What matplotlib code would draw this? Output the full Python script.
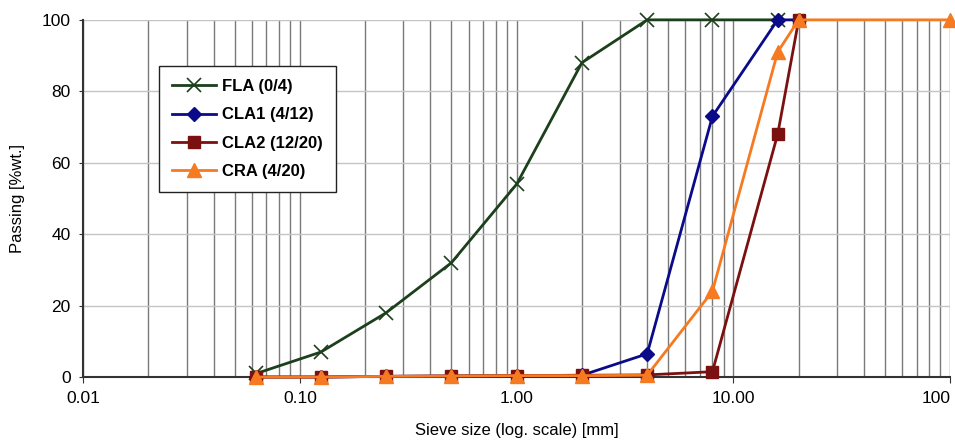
import matplotlib
matplotlib.use("Agg")
import matplotlib.pyplot as plt
from matplotlib.ticker import FixedLocator, NullFormatter, LogLocator
from matplotlib.transforms import ScaledTranslation

plt.rcParams['font.family'] = ['Liberation Sans', 'DejaVu Sans']

fla_x = [0.063, 0.125, 0.25, 0.5, 1, 2, 4, 8, 16]
fla_y = [1, 7, 18, 32, 54, 88, 100, 100, 100]
cla1_x = [0.063, 0.125, 0.25, 0.5, 1, 2, 4, 8, 16, 20]
cla1_y = [0, 0, 0.2, 0.3, 0.4, 0.5, 6.5, 73, 100, 100]
cla2_x = [0.063, 0.125, 0.25, 0.5, 1, 2, 4, 8, 16, 20]
cla2_y = [0, 0, 0.2, 0.3, 0.4, 0.5, 0.6, 1.5, 68, 100]
cra_x = [0.063, 0.125, 0.25, 0.5, 1, 2, 4, 8, 16, 20, 100]
cra_y = [0, 0, 0.2, 0.3, 0.4, 0.4, 0.5, 24, 91, 100, 100]

xticks = [0.01, 0.1, 1, 10, 100]
xticklabels = ["0.01", "0.10", "1.00", "10.00", "100"]
yticks = [0, 20, 40, 60, 80, 100]

fig = plt.figure(figsize=(9.55, 4.41), dpi=100)
ax = fig.add_axes([0.087, 0.145, 0.908, 0.81])
ax.set_xscale('log')
ax.set_xlim(0.01, 100)
ax.set_ylim(0, 100)

ax.plot(fla_x, fla_y, color='#1c3f1c', lw=2, marker='x', ms=10, mew=1.2,
        label='FLA (0/4)', zorder=3, clip_on=False)
ax.plot(cla1_x, cla1_y, color='#0b0b8a', lw=2, marker='D', ms=7,
        label='CLA1 (4/12)', zorder=4, clip_on=False)
ax.plot(cla2_x, cla2_y, color='#7a1010', lw=2, marker='s', ms=8,
        label='CLA2 (12/20)', zorder=5, clip_on=False)
ax.plot(cra_x, cra_y, color='#f57a22', lw=2, marker='^', ms=10,
        label='CRA (4/20)', zorder=6, clip_on=False)

ax.xaxis.set_major_locator(FixedLocator(xticks))
ax.set_xticklabels(xticklabels)
ax.xaxis.set_minor_locator(LogLocator(base=10, subs=range(2, 10)))
ax.xaxis.set_minor_formatter(NullFormatter())
ax.set_yticks(yticks)

last = ax.get_xticklabels()[-1]
last.set_horizontalalignment('right')
last.set_transform(last.get_transform() + ScaledTranslation(3/100, 0, fig.dpi_scale_trans))

ax.grid(True, which='both', axis='x', color='#7a7a7a', lw=1)
ax.grid(True, which='major', axis='y', color='#c4c4c4', lw=1)
ax.set_axisbelow(True)

for s in ['top', 'right']:
    ax.spines[s].set_visible(False)
for s in ['left', 'bottom']:
    ax.spines[s].set_color('#333333')
    ax.spines[s].set_linewidth(1.5)

ax.tick_params(axis='both', which='major', labelsize=12.5, length=4, color='#333333', pad=6)
ax.tick_params(axis='x', which='minor', length=0)
ax.tick_params(axis='y', length=3)

ax.set_xlabel('Sieve size (log. scale) [mm]', fontsize=12, labelpad=12)
ax.set_ylabel('Passing [%wt.]', fontsize=12, labelpad=12)

leg = ax.legend(loc='upper left', bbox_to_anchor=(0.078, 0.895), frameon=True,
                fancybox=False, edgecolor='#222222', framealpha=1,
                prop={'weight': 'bold', 'size': 12}, borderpad=0.8,
                labelspacing=0.8, handlelength=2.6, handletextpad=0.4)
leg.get_frame().set_linewidth(1.0)

fig.savefig('out.png', dpi=100)
